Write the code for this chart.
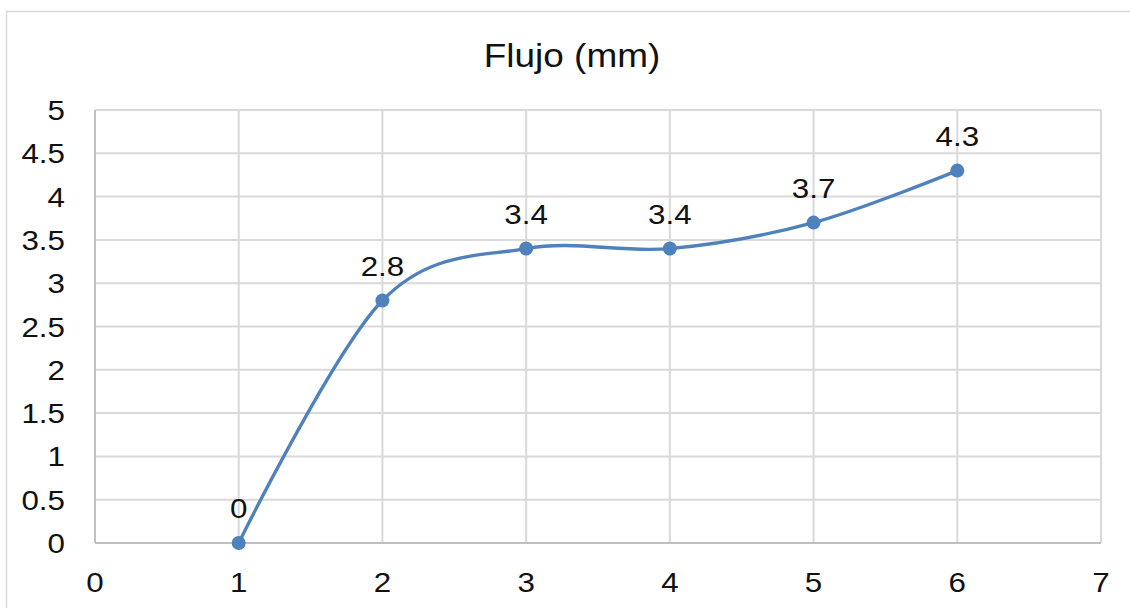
<!DOCTYPE html>
<html>
<head>
<meta charset="utf-8">
<script src="https://cdn.jsdelivr.net/npm/d3@7"></script>
<style>
  body { margin: 0; background: #fff; }
  svg { display: block; font-family: 'Liberation Sans', Arial, sans-serif; }
</style>
</head>
<body>
<div id="chart-container"></div>
<script>
const title = 'Flujo (mm)'
const xValues = [1, 2, 3, 4, 5, 6]
const yValues = [0, 2.8, 3.4, 3.4, 3.7, 4.3]
const xTicks = [0, 1, 2, 3, 4, 5, 6, 7]
const yTicks = [0, 0.5, 1, 1.5, 2, 2.5, 3, 3.5, 4, 4.5, 5]

const width = 1130
const height = 608

const marginLeft = 95
const marginRight = 29
const marginTop = 110
const marginBottom = 65

// text in the reference is a bit wider than Arial
const stretch = 'scale(1.12,1)'

const svg = d3
  .select('#chart-container')
  .append('svg')
  .attr('width', width)
  .attr('height', height)

// chart area border
svg
  .append('rect')
  .attr('x', 6.5)
  .attr('y', 11.5)
  .attr('width', width + 20)
  .attr('height', height + 20)
  .attr('fill', 'none')
  .attr('stroke', '#d9d9d9')
  .attr('stroke-width', 1.5)

const x = d3
  .scaleLinear()
  .domain([0, 7])
  .range([marginLeft, width - marginRight])

const y = d3
  .scaleLinear()
  .domain([0, 5])
  .range([height - marginBottom, marginTop])

// gridlines
svg
  .append('g')
  .selectAll('line')
  .data(yTicks.filter(d => d > 0))
  .join('line')
  .attr('x1', x(0))
  .attr('x2', x(7))
  .attr('y1', d => y(d))
  .attr('y2', d => y(d))
  .attr('stroke', '#d9d9d9')
  .attr('stroke-width', 2)

svg
  .append('g')
  .selectAll('line')
  .data(xTicks.filter(d => d > 0))
  .join('line')
  .attr('x1', d => x(d))
  .attr('x2', d => x(d))
  .attr('y1', y(0))
  .attr('y2', y(5))
  .attr('stroke', '#d9d9d9')
  .attr('stroke-width', 2)

// axis lines
svg
  .append('line')
  .attr('x1', x(0))
  .attr('x2', x(0))
  .attr('y1', y(0))
  .attr('y2', y(5))
  .attr('stroke', '#bfbfbf')
  .attr('stroke-width', 2)

svg
  .append('line')
  .attr('x1', x(0))
  .attr('x2', x(7))
  .attr('y1', y(0))
  .attr('y2', y(0))
  .attr('stroke', '#bfbfbf')
  .attr('stroke-width', 2)

// tick labels
svg
  .append('g')
  .selectAll('text')
  .data(yTicks)
  .join('text')
  .attr('transform', d => `translate(65,${y(d) + 10}) ${stretch}`)
  .attr('text-anchor', 'end')
  .attr('font-size', 28)
  .attr('fill', '#111')
  .text(d => d)

svg
  .append('g')
  .selectAll('text')
  .data(xTicks)
  .join('text')
  .attr('transform', d => `translate(${x(d)},592) ${stretch}`)
  .attr('text-anchor', 'middle')
  .attr('font-size', 28)
  .attr('fill', '#111')
  .text(d => d)

// title
svg
  .append('text')
  .attr('transform', `translate(572,67) ${stretch}`)
  .attr('text-anchor', 'middle')
  .attr('font-size', 33)
  .attr('fill', '#111')
  .text(title)

const points = xValues.map((d, i) => [d, yValues[i]])

// smoothed line
const line = d3
  .line()
  .x(d => x(d[0]))
  .y(d => y(d[1]))
  .curve(d3.curveCardinal.tension(0))

svg
  .append('path')
  .attr('d', line(points))
  .attr('fill', 'none')
  .attr('stroke', '#4f81bd')
  .attr('stroke-width', 3.3)
  .attr('stroke-linecap', 'round')

svg
  .append('g')
  .selectAll('circle')
  .data(points)
  .join('circle')
  .attr('cx', d => x(d[0]))
  .attr('cy', d => y(d[1]))
  .attr('r', 7)
  .attr('fill', '#4f81bd')

// data labels
svg
  .append('g')
  .selectAll('text')
  .data(points)
  .join('text')
  .attr('transform', d => `translate(${x(d[0])},${y(d[1]) - 25}) ${stretch}`)
  .attr('text-anchor', 'middle')
  .attr('font-size', 28)
  .attr('fill', '#111')
  .text(d => d[1])
</script>
</body>
</html>
